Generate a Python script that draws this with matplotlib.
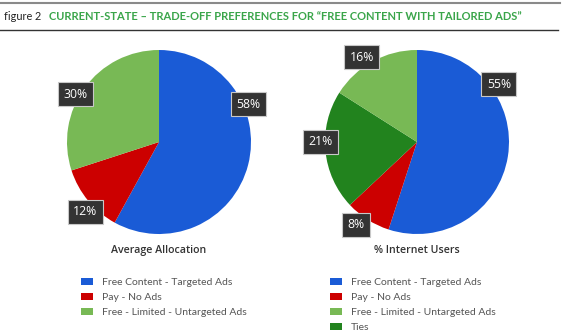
import matplotlib
matplotlib.use('Agg')
import matplotlib.pyplot as plt
from matplotlib.patches import Patch
from matplotlib.lines import Line2D

# series, in legend order
categories = ['Free Content - Targeted Ads', 'Pay - No Ads', 'Free - Limited - Untargeted Ads', 'Ties']
colors = ['#1a5bd6', '#cc0000', '#78b955', '#22831e']

avg_alloc = [58, 12, 30]          # Average Allocation
internet_users = [55, 8, 16, 21]  # % Internet Users

# order the wedges go round the pie (clockwise from 12 o'clock)
avg_order = [0, 1, 2]
users_order = [0, 1, 3, 2]

# label box spots, in pie radius units, same order as the series
avg_label_xy = [(0.97, 0.41), (-0.80, -0.76), (-0.91, 0.52)]
users_label_xy = [(0.89, 0.63), (-0.66, -0.90), (-0.60, 0.92), (-1.05, 0.0)]

W, H = 566, 335
fig = plt.figure(figsize=(W / 100, H / 100), dpi=100)
fig.patch.set_facecolor('white')

BODY = ['Open Sans', 'DejaVu Sans']
NARROW = ['Lato', 'DejaVu Sans']


def pie_axes(cx, cy, r, s=1.35):
    # axes in pixel terms, centred at (cx, cy) from top-left, radius r
    half = r * s
    ax = fig.add_axes([(cx - half) / W, 1 - (cy + half) / H, 2 * half / W, 2 * half / H])
    ax.axis('off')
    return ax, s


def draw_pie(ax, s, values, order, label_xy, title):
    vals = [values[i] for i in order]
    cols = [colors[i] for i in order]
    ax.pie(vals, colors=cols, startangle=90, counterclock=False, radius=1.0,
           wedgeprops=dict(linewidth=0))
    # pie() resets the limits, so fix them afterwards
    ax.set_xlim(-s, s)
    ax.set_ylim(-s, s)
    ax.set_aspect('equal')
    for v, (x, y) in zip(values, label_xy):
        ax.text(x, y, f'{v}%', ha='center', va='center', color='white', fontsize=8.8,
                family=BODY,
                bbox=dict(boxstyle='square,pad=0.45', facecolor='#333333',
                          edgecolor='#c8c8c8', linewidth=0.8))
    ax.text(0, -1.18, title, ha='center', va='center', fontsize=7.7, fontweight='semibold',
            color='#333333', family=BODY)


ax1, s1 = pie_axes(159, 142, 92)
draw_pie(ax1, s1, avg_alloc, avg_order, avg_label_xy, 'Average Allocation')

ax2, s2 = pie_axes(417, 142, 92)
draw_pie(ax2, s2, internet_users, users_order, users_label_xy, '% Internet Users')


# legends
def add_legend(n, x_px, y_px):
    handles = [Patch(facecolor=colors[i], edgecolor='none') for i in range(n)]
    leg = fig.legend(handles, categories[:n], loc='upper left',
                     bbox_to_anchor=(x_px / W, 1 - y_px / H), frameon=False,
                     prop=dict(family=NARROW, size=7.5), handlelength=1.15, handleheight=0.65,
                     handletextpad=0.85, labelspacing=0.55, borderpad=0, borderaxespad=0)
    for t in leg.get_texts():
        t.set_color('#555555')


add_legend(3, 81, 278)
add_legend(4, 330, 278)

# header rules and caption
fig.add_artist(Line2D([0, 560 / W], [1 - 2.5 / H, 1 - 2.5 / H], color='#8a8a8a', linewidth=1.5))
fig.add_artist(Line2D([0, 558 / W], [1 - 29.5 / H, 1 - 29.5 / H], color='#333333', linewidth=1.0))
fig.text(4 / W, 1 - 16 / H, 'figure 2', fontsize=7.8, color='#222222', va='center',
         family=NARROW)
fig.text(49 / W, 1 - 16 / H, 'CURRENT-STATE \u2013 TRADE-OFF PREFERENCES FOR \u201cFREE CONTENT WITH TAILORED ADS\u201d',
         fontsize=8, color='#3aa54a', fontweight='bold', va='center',
         family=NARROW)

fig.savefig('out.png', dpi=100)
